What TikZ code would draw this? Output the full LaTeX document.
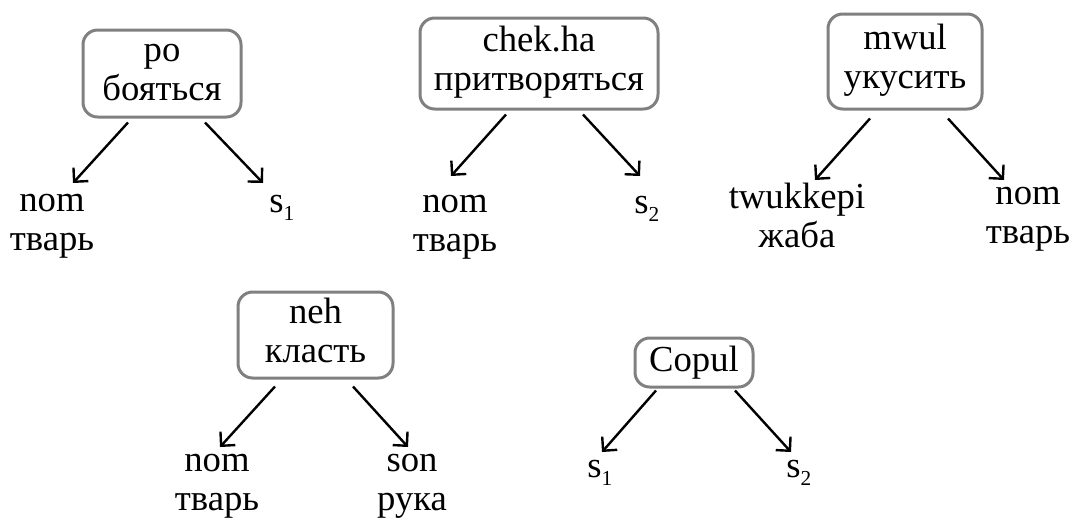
\documentclass[tikz,border=0pt]{standalone}
\usepackage{fontspec}
\setmainfont{Liberation Serif}
\usetikzlibrary{arrows.meta,calc}

% lowered index digit, as in s1, s2
\newcommand\lowidx[1]{\raisebox{-6pt}{\fontsize{16}{16}\selectfont #1}}

\tikzset{
  txt/.style={inner sep=0pt, font=\fontsize{27.5}{29}\selectfont},
  frame/.style={txt, draw=black!50, line width=2.25pt, rounded corners=11pt,
    align=center, inner sep=0pt},
  arr/.style={line width=1.8pt, -{Straight Barb[length=7.5pt,width=15pt]}},
}

\begin{document}
\begin{tikzpicture}[x=0.75pt, y=-0.75pt]
\path[use as bounding box] (0,0) rectangle (1071,519);

% --- po / бояться
\node[frame, minimum width=118.5pt, minimum height=65.25pt] (b1) at (162,73.5)
  {\strut po\\\strut бояться};
\node[txt, anchor=base, align=center] (c1a) at (52,250) {nom\\тварь};
\node[txt, anchor=base west] (c1b) at (269,212) {s\lowidx{1}};
\coordinate (e1a) at (73,183);
\coordinate (e1b) at (263,183);
\draw[arr] ($(b1.south)+(-34,4)$) -- (e1a);
\draw[arr] ($(b1.south)+(43,4)$) -- (e1b);

% --- chek.ha / притворяться
\node[frame, minimum width=178.5pt, minimum height=68.25pt] (b2) at (539,63.5)
  {\strut chek.ha\\\strut притворяться};
\node[txt, anchor=base, align=center] (c2a) at (455,251) {nom\\тварь};
\node[txt, anchor=base west] (c2b) at (634,213) {s\lowidx{2}};
\coordinate (e2a) at (451,176);
\coordinate (e2b) at (640,176);
\draw[arr] ($(b2.south)+(-33,4)$) -- (e2a);
\draw[arr] ($(b2.south)+(44,4)$) -- (e2b);

% --- mwul / укусить
\node[frame, minimum width=115.5pt, minimum height=71.25pt] (b3) at (905,61.5)
  {\strut mwul\\\strut укусить};
\node[txt, anchor=base, align=center] (c3a) at (797,247) {twukkepi\\жаба};
\node[txt, anchor=base, align=center] (c3b) at (1028,243) {nom\\тварь};
\coordinate (e3a) at (815,180);
\coordinate (e3b) at (1004,180);
\draw[arr] ($(b3.south)+(-35,8)$) -- (e3a);
\draw[arr] ($(b3.south)+(43,8)$) -- (e3b);

% --- neh / класть
\node[frame, minimum width=116.25pt, minimum height=64.5pt] (b4) at (315.5,335)
  {\strut neh\\\strut класть};
\node[txt, anchor=base, align=center] (c4a) at (217,510) {nom\\тварь};
\node[txt, anchor=base, align=center] (c4b) at (412,510) {son\\рука};
\coordinate (e4a) at (220,447);
\coordinate (e4b) at (408,447);
\draw[arr] ($(b4.south)+(-40.5,7)$) -- (e4a);
\draw[arr] ($(b4.south)+(37.5,7)$) -- (e4b);

% --- Copul
\node[frame, minimum width=88.5pt, minimum height=36.75pt] (b5) at (694,362.5)
  {Copul};
\node[txt, anchor=base west] (c5a) at (587,477) {s\lowidx{1}};
\node[txt, anchor=base west] (c5b) at (786,477) {s\lowidx{2}};
\coordinate (e5a) at (602,452);
\coordinate (e5b) at (791,452);
\draw[arr] ($(b5.south)+(-38,2)$) -- (e5a);
\draw[arr] ($(b5.south)+(41,2)$) -- (e5b);
\end{tikzpicture}
\end{document}
